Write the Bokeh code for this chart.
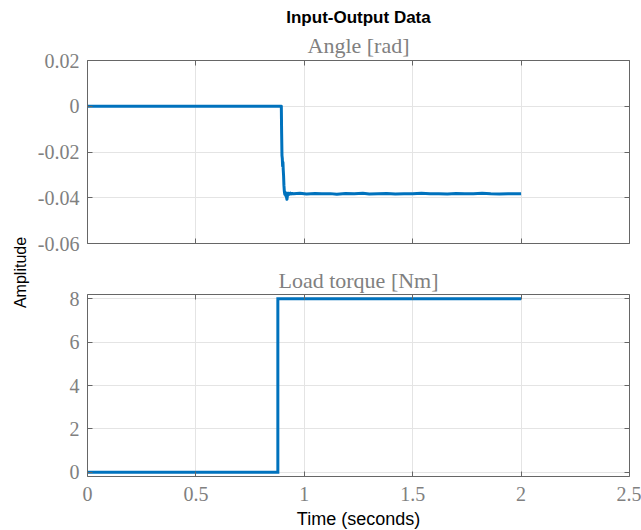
import math

from bokeh.embed import file_html
from bokeh.layouts import column, row
from bokeh.models import FixedTicker, Label, LinearAxis, Range1d, Title
from bokeh.plotting import figure
from bokeh.resources import INLINE

# Measured input: load torque step [Nm]
time_in = [0.0, 0.878, 0.878, 2.0]
load_torque = [0.0, 0.0, 8.0, 8.0]

# Measured output: shaft angle [rad]
time_out = [
    0.0, 0.894, 0.8955, 0.897, 0.8985, 0.900, 0.9015, 0.903, 0.9045, 0.906,
    0.908, 0.910, 0.912, 0.914, 0.916, 0.918, 0.920, 0.922, 0.924, 0.926,
    0.929, 0.932, 0.936, 0.940, 0.945,
    0.95, 0.98, 1.01, 1.05, 1.08, 1.12, 1.15, 1.19, 1.23, 1.27,
    1.30, 1.34, 1.38, 1.42, 1.46, 1.50, 1.54, 1.58, 1.62, 1.66,
    1.70, 1.74, 1.78, 1.82, 1.86, 1.90, 1.94, 1.97, 2.0,
]
angle = [
    0.0, 0.0, -0.0120, -0.0215, -0.0228, -0.0262, -0.0245, -0.0280, -0.0305, -0.0345,
    -0.0372, -0.0385, -0.0376, -0.0390, -0.0384, -0.0398, -0.0407, -0.0392, -0.0380, -0.0386,
    -0.0381, -0.0384, -0.0380, -0.0383, -0.0381,
    -0.0383, -0.0380, -0.0384, -0.0381, -0.0383, -0.0382, -0.0385, -0.0381, -0.0383, -0.0380,
    -0.0384, -0.0382, -0.0381, -0.0384, -0.0382, -0.0383, -0.0380, -0.0383, -0.0382, -0.0384,
    -0.0381, -0.0383, -0.0382, -0.0380, -0.0383, -0.0384, -0.0382, -0.0383, -0.0382,
]

x_ticks = [0, 0.5, 1, 1.5, 2, 2.5]
x_tick_labels = ["0", "0.5", "1", "1.5", "2", "2.5"]
angle_ticks = [-0.06, -0.04, -0.02, 0, 0.02]
angle_tick_labels = ["-0.06", "-0.04", "-0.02", "0", "0.02"]
torque_ticks = [0, 2, 4, 6, 8]
torque_tick_labels = ["0", "2", "4", "6", "8"]

LINE = "#0072BD"
AXIS = "#666666"
TICK_TEXT = "#808080"
GRID = "#e4e4e4"
SERIF = "Liberation Serif"
SANS = "Liberation Sans"


def style_axis(ax, ticks, labels, show_labels, standoff=8):
    ax.ticker = FixedTicker(ticks=ticks)
    ax.axis_line_color = AXIS
    ax.axis_line_width = 1
    ax.major_tick_line_color = AXIS
    ax.major_tick_in = 5
    ax.major_tick_out = 0
    ax.minor_tick_line_color = None
    ax.major_label_text_font = SERIF
    if show_labels:
        ax.major_label_text_font_size = "20px"
        ax.major_label_text_color = TICK_TEXT
        ax.major_label_standoff = standoff
        ax.major_label_overrides = dict(zip(ticks, labels))
    else:
        # tick marks only: labels are not painted and take almost no room
        ax.major_label_text_font_size = "1px"
        ax.major_label_text_color = None
        ax.major_label_standoff = 0


def panel(y_range, y_ticks, y_labels, subtitle, frame_height, top, bottom,
          show_x, subtitle_standoff):
    p = figure(
        frame_width=542, frame_height=frame_height,
        x_range=Range1d(0, 2.5), y_range=y_range,
        min_border_left=57, min_border_right=12,
        min_border_top=top, min_border_bottom=bottom,
        output_backend="svg", toolbar_location=None, title=None,
    )
    p.outline_line_color = None
    p.background_fill_color = "white"
    p.border_fill_color = "white"

    x_bottom = p.xaxis[0]
    y_left = p.yaxis[0]
    style_axis(x_bottom, x_ticks, x_tick_labels, show_x, standoff=10)
    style_axis(y_left, y_ticks, y_labels, True, standoff=8)

    top_axis = LinearAxis()
    style_axis(top_axis, x_ticks, x_tick_labels, False)
    p.add_layout(top_axis, "above")
    right_axis = LinearAxis()
    style_axis(right_axis, y_ticks, y_labels, False)
    p.add_layout(right_axis, "right")

    p.xgrid.ticker = FixedTicker(ticks=x_ticks)
    p.ygrid.ticker = FixedTicker(ticks=y_ticks)
    p.grid.grid_line_color = GRID
    p.grid.grid_line_width = 1

    p.add_layout(Title(text=subtitle, align="center", text_font=SERIF,
                       text_font_size="22px", text_font_style="normal",
                       text_color=TICK_TEXT, standoff=subtitle_standoff), "above")
    return p, x_bottom


top_panel, _ = panel(Range1d(-0.06, 0.02), angle_ticks, angle_tick_labels,
                     "Angle [rad]", 183, 60, 15, False, 6)
top_panel.add_layout(Title(text="Input-Output Data", align="center",
                           text_font=SANS, text_font_size="17px",
                           text_font_style="bold", text_color="black",
                           standoff=2), "above")
top_panel.line(time_out, angle, line_width=3, line_color=LINE, line_join="round")

bottom_panel, time_axis = panel(Range1d(-0.2, 8.2), torque_ticks, torque_tick_labels,
                                "Load torque [Nm]", 182, 36, 54, True, 3)
time_axis.axis_label = "Time (seconds)"
time_axis.axis_label_text_font = SANS
time_axis.axis_label_text_font_size = "18px"
time_axis.axis_label_text_font_style = "normal"
time_axis.axis_label_text_color = "black"
time_axis.axis_label_standoff = 5
bottom_panel.line(time_in, load_torque, line_width=3, line_color=LINE, line_join="miter")

# Shared y-axis label on a narrow strip to the left of both panels
label_strip = figure(
    width=30, height=530, x_range=Range1d(0, 1), y_range=Range1d(0, 1),
    x_axis_type=None, y_axis_type=None, min_border=0,
    output_backend="svg", toolbar_location=None, title=None,
)
label_strip.outline_line_color = None
label_strip.grid.visible = False
label_strip.add_layout(Label(
    x=20 / 30, y=1 - 272 / 530, text="Amplitude", angle=math.pi / 2,
    text_align="center", text_baseline="middle",
    text_font=SANS, text_font_size="16px", text_color="black",
))

layout = row(label_strip, column(top_panel, bottom_panel))

with open("out.html", "w") as f:
    f.write(file_html(layout, INLINE))
